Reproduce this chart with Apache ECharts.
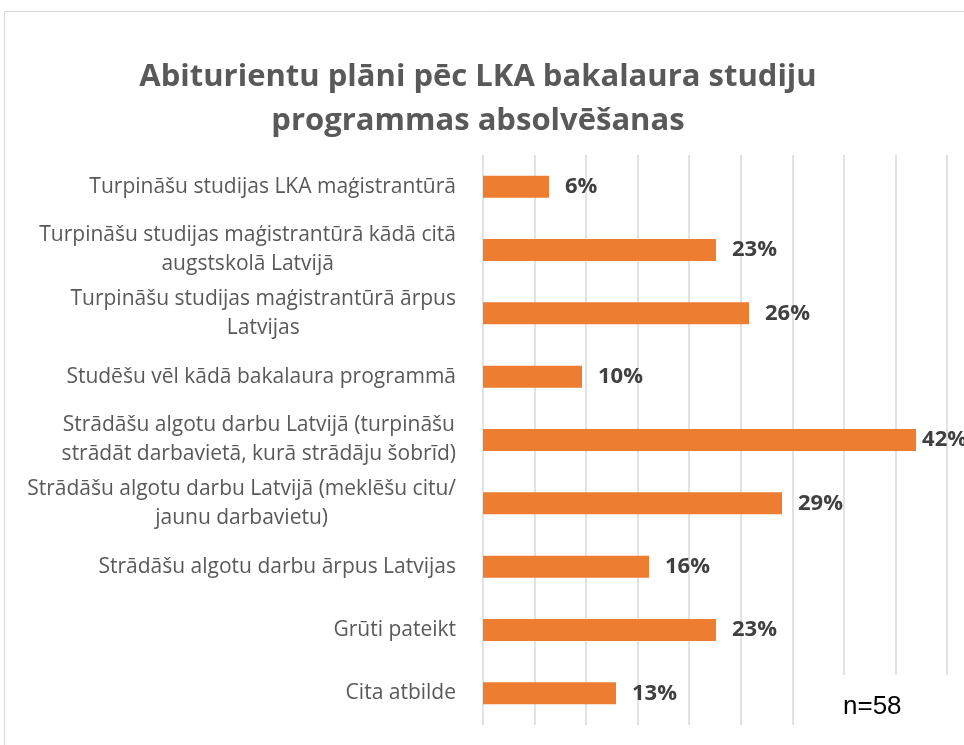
<!DOCTYPE html>
<html>
<head>
<meta charset="utf-8">
<script src="https://cdn.jsdelivr.net/npm/echarts@6/dist/echarts.min.js"></script>
<style>
html, body { margin: 0; padding: 0; background: #fff; }
#container { width: 964px; height: 745px; }
</style>
</head>
<body>
<div id="container"></div>
<script>
// chart data
var titleText = 'Abiturientu plāni pēc LKA bakalaura studiju\nprogrammas absolvēšanas';
var categories = [
    'Turpināšu studijas LKA maģistrantūrā',
    'Turpināšu studijas maģistrantūrā kādā citā\naugstskolā Latvijā',
    'Turpināšu studijas maģistrantūrā ārpus\nLatvijas',
    'Studēšu vēl kādā bakalaura programmā',
    'Strādāšu algotu darbu Latvijā (turpināšu\nstrādāt darbavietā, kurā strādāju šobrīd)',
    'Strādāšu algotu darbu Latvijā (meklēšu citu/\njaunu darbavietu)',
    'Strādāšu algotu darbu ārpus Latvijas',
    'Grūti pateikt',
    'Cita atbilde'
];
var values = [6.4, 22.6, 25.8, 9.6, 42.0, 29.0, 16.1, 22.6, 12.9];
var noteText = 'n=58';

var font = '"Open Sans", "Noto Sans", sans-serif';

function draw() {
    var myChart = echarts.init(document.getElementById('container'), null, { renderer: 'canvas' });

    // bars near the right edge get their label pulled closer, like the original
    var barData = values.map(function (v) {
        return v > 40 ? { value: v, label: { distance: 6 } } : v;
    });

    var option = {
        backgroundColor: '#fff',
        animation: false,
        title: {
            text: titleText,
            left: 473,
            textAlign: 'center',
            top: 50,
            textStyle: {
                fontFamily: font,
                fontWeight: 'bold',
                fontSize: 31,
                lineHeight: 44,
                color: '#595959'
            }
        },
        grid: {
            left: 483,
            right: 17,
            top: 155,
            bottom: 20
        },
        xAxis: {
            type: 'value',
            min: 0,
            max: 45,
            interval: 5,
            axisLabel: { show: false },
            axisLine: { show: false },
            axisTick: { show: false },
            splitLine: { lineStyle: { color: '#d9d9d9', width: 1.5 } }
        },
        yAxis: {
            type: 'category',
            inverse: true,
            data: categories,
            axisLine: { show: false },
            axisTick: { show: false },
            axisLabel: {
                margin: 27,
                align: 'right',
                formatter: function (v) {
                    return v.split('\n').map(function (s) { return '{c|' + s + '}'; }).join('\n');
                },
                rich: {
                    c: {
                        align: 'center',
                        fontFamily: font,
                        fontSize: 21,
                        lineHeight: 29,
                        color: '#595959'
                    }
                }
            }
        },
        series: [{
            type: 'bar',
            data: barData,
            barWidth: 22,
            itemStyle: { color: '#ED7D31' },
            label: {
                show: true,
                position: 'right',
                distance: 16,
                fontFamily: font,
                fontWeight: 'bold',
                fontSize: 22,
                color: '#404040',
                formatter: function (p) { return Math.round(p.value) + '%'; }
            }
        }],
        graphic: [
            {
                type: 'rect',
                z: -1,
                shape: { x: 4.5, y: 11.5, width: 1000, height: 800 },
                style: { fill: null, stroke: '#d9d9d9', lineWidth: 1 }
            },
            {
                type: 'rect',
                z: 1,
                shape: { x: 822, y: 675, width: 200, height: 80 },
                style: { fill: '#fff' }
            },
            {
                type: 'text',
                z: 3,
                left: 843,
                top: 694,
                style: {
                    text: noteText,
                    font: '26px "Liberation Sans", Arial, sans-serif',
                    fill: '#000'
                }
            }
        ]
    };

    myChart.setOption(option);
}

window.addEventListener('load', draw, false);
</script>
</body>
</html>
